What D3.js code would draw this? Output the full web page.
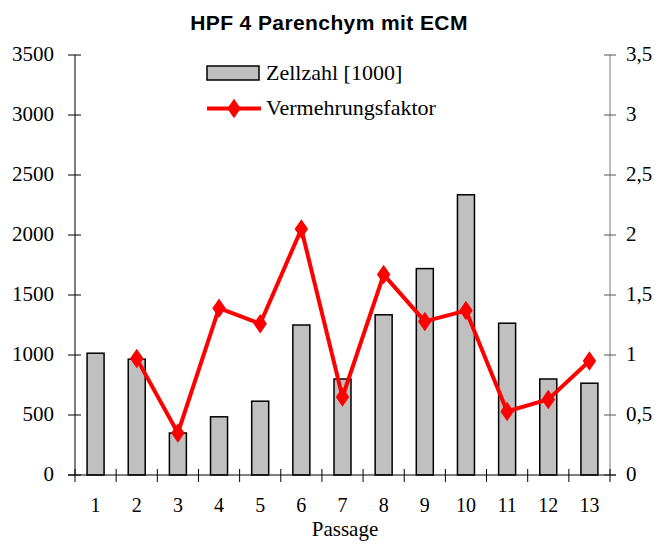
<!DOCTYPE html>
<html>
<head>
<meta charset="utf-8">
<script src="https://cdn.jsdelivr.net/npm/d3@7"></script>
<style>
  body { margin: 0; background: #fff; }
  svg text { font-family: "Liberation Serif", "Times New Roman", serif; }
</style>
</head>
<body>
<div id="chart"></div>
<script>
var passages = ["1","2","3","4","5","6","7","8","9","10","11","12","13"];
var zellzahl = [1015, 965, 350, 485, 615, 1250, 800, 1335, 1720, 2335, 1265, 800, 765];
var faktor = [null, 0.97, 0.35, 1.39, 1.26, 2.05, 0.65, 1.67, 1.28, 1.37, 0.53, 0.63, 0.95];
var leftTicks = [0, 500, 1000, 1500, 2000, 2500, 3000, 3500];
var rightTicks = [0, 0.5, 1, 1.5, 2, 2.5, 3, 3.5];

var svg = d3.select("#chart").append("svg")
    .attr("width", 670)
    .attr("height", 546);

var box = {xmin: 75, xmax: 610, ymin: 55, ymax: 475};

var x = d3.scaleBand()
    .domain(passages)
    .range([box.xmin, box.xmax]);
var y = d3.scaleLinear().domain([0, 3500]).range([box.ymax, box.ymin]);
var y2 = d3.scaleLinear().domain([0, 3.5]).range([box.ymax, box.ymin]);

// title
svg.append("text")
    .attr("x", 329)
    .attr("y", 30)
    .attr("text-anchor", "middle")
    .style("font-family", "'Liberation Sans', Arial, sans-serif")
    .style("font-weight", "bold")
    .style("font-size", "21px")
    .style("letter-spacing", "0.4px")
    .text("HPF 4 Parenchym mit ECM");

// bars
var barW = 17;
svg.selectAll(".bar")
    .data(zellzahl)
    .enter().append("rect")
        .attr("class", "bar")
        .attr("x", function(d, i) { return x(passages[i]) + x.bandwidth() / 2 - barW / 2; })
        .attr("y", function(d) { return y(d); })
        .attr("width", barW)
        .attr("height", function(d) { return y(0) - y(d); })
        .attr("fill", "#c0c0c0")
        .attr("stroke", "#000")
        .attr("stroke-width", 1.5);

// left axis
svg.append("line")
    .attr("x1", box.xmin).attr("x2", box.xmin)
    .attr("y1", box.ymin).attr("y2", box.ymax)
    .attr("stroke", "#000");
svg.selectAll(".ltick")
    .data(leftTicks)
    .enter().append("line")
        .attr("x1", box.xmin - 7).attr("x2", box.xmin + 6)
        .attr("y1", function(d) { return y(d); })
        .attr("y2", function(d) { return y(d); })
        .attr("stroke", "#000");
svg.selectAll(".llabel")
    .data(leftTicks)
    .enter().append("text")
        .attr("x", 54)
        .attr("y", function(d) { return y(d) + 6; })
        .attr("text-anchor", "end")
        .style("font-size", "21px")
        .text(function(d) { return d; });

// right axis
svg.append("line")
    .attr("x1", box.xmax).attr("x2", box.xmax)
    .attr("y1", box.ymin).attr("y2", box.ymax)
    .attr("stroke", "#777");
svg.selectAll(".rtick")
    .data(rightTicks)
    .enter().append("line")
        .attr("x1", box.xmax - 6).attr("x2", box.xmax + 6)
        .attr("y1", function(d) { return y2(d); })
        .attr("y2", function(d) { return y2(d); })
        .attr("stroke", "#555");
svg.selectAll(".rlabel")
    .data(rightTicks)
    .enter().append("text")
        .attr("x", 626)
        .attr("y", function(d) { return y2(d) + 6; })
        .style("font-size", "21px")
        .text(function(d) { return String(d).replace(".", ","); });

// x axis
svg.append("line")
    .attr("x1", box.xmin - 7).attr("x2", box.xmax + 6)
    .attr("y1", box.ymax).attr("y2", box.ymax)
    .attr("stroke", "#000");
svg.selectAll(".xtick")
    .data(d3.range(passages.length + 1))
    .enter().append("line")
        .attr("x1", function(d) { return box.xmin + d * x.step(); })
        .attr("x2", function(d) { return box.xmin + d * x.step(); })
        .attr("y1", box.ymax - 6)
        .attr("y2", box.ymax + 7)
        .attr("stroke", "#000");
svg.selectAll(".xlabel")
    .data(passages)
    .enter().append("text")
        .attr("x", function(d) { return x(d) + x.bandwidth() / 2; })
        .attr("y", 512)
        .attr("text-anchor", "middle")
        .style("font-size", "20px")
        .text(function(d) { return d; });
svg.append("text")
    .attr("x", 345)
    .attr("y", 536)
    .attr("text-anchor", "middle")
    .style("font-size", "21px")
    .text("Passage");

// line
var pts = faktor.map(function(d, i) { return {k: passages[i], v: d}; })
    .filter(function(d) { return d.v !== null; });
var line = d3.line()
    .x(function(d) { return x(d.k) + x.bandwidth() / 2; })
    .y(function(d) { return y2(d.v); });
svg.append("path")
    .datum(pts)
    .attr("d", line)
    .attr("fill", "none")
    .attr("stroke", "#ff0000")
    .attr("stroke-width", 4)
    .attr("stroke-linejoin", "round");
var diamond = d3.symbol().type(d3.symbolDiamond).size(110);
svg.selectAll(".marker")
    .data(pts)
    .enter().append("path")
        .attr("d", diamond)
        .attr("transform", function(d) {
            return "translate(" + (x(d.k) + x.bandwidth() / 2) + "," + y2(d.v) + ") scale(1.2,1)";
        })
        .attr("fill", "#ff0000");

// legend
svg.append("rect")
    .attr("x", 207).attr("y", 66)
    .attr("width", 52).attr("height", 14)
    .attr("fill", "#c0c0c0")
    .attr("stroke", "#000")
    .attr("stroke-width", 1.5);
svg.append("text")
    .attr("x", 266).attr("y", 80)
    .style("font-size", "22px")
    .text("Zellzahl [1000]");
svg.append("line")
    .attr("x1", 207).attr("x2", 261)
    .attr("y1", 108.5).attr("y2", 108.5)
    .attr("stroke", "#ff0000")
    .attr("stroke-width", 4);
svg.append("path")
    .attr("d", diamond)
    .attr("transform", "translate(234,108.5) scale(1.2,1)")
    .attr("fill", "#ff0000");
svg.append("text")
    .attr("x", 266).attr("y", 115)
    .style("font-size", "22px")
    .text("Vermehrungsfaktor");
</script>
</body>
</html>
